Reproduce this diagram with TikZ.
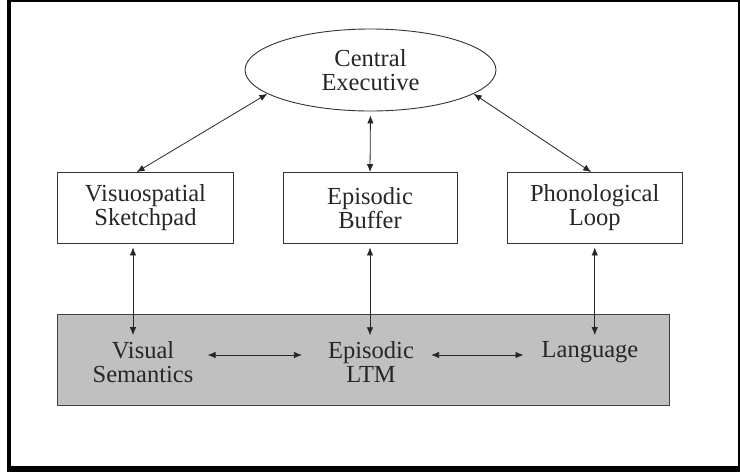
\documentclass[tikz,border=0pt]{standalone}
\usepackage{fontspec}
\setmainfont{Liberation Serif}
\usetikzlibrary{shapes.geometric,arrows.meta,calc}
\begin{document}
\begin{tikzpicture}[x=1pt,y=-1pt,
  lbl/.style={font=\fontsize{24.5}{24}\selectfont, text=black!85, align=center, inner sep=0pt},
  box/.style={lbl, draw=black!80, line width=0.9pt, minimum width=175pt, minimum height=70.5pt},
  arr/.style={{Latex[length=8pt,width=6.5pt]}-{Latex[length=8pt,width=6.5pt]}, line width=0.8pt, black!85}
]
\useasboundingbox (0,0) rectangle (740,472);
% frame
\fill (7,0) rectangle (11,472);
\fill (7,0) rectangle (740,2);
\fill (7,466) rectangle (740,472);
\fill (738,0) rectangle (740,472);

% top level
\node[lbl, ellipse, draw=black!80, line width=0.9pt, minimum width=251pt, minimum height=82pt] (ce) at (370.5,70) {Central\\Executive};

\node[box, minimum width=176pt] (vs) at (145.5,207.75) {Visuospatial\\Sketchpad};
\node[box, minimum width=174pt] (eb) at (370,207.75) {Episodic\\Buffer};
\node[box, minimum width=175.5pt] (pl) at (594.75,207.75) {Phonological\\Loop};

% LTM box
\node[draw=black!75, line width=0.8pt, fill={rgb,255:red,192;green,192;blue,192}, minimum width=612pt, minimum height=91.5pt, inner sep=0pt] (ltmbox) at (363,359.75) {};

\node[lbl] (vsem) at (143,362) {Visual\\Semantics};
\node[lbl] (ltm) at (371,362) {Episodic\\LTM};
\node[lbl] (lang) at (590,352) {Language};

% connectors top
\draw[arr] ($(vs.north west)!0.45!(vs.north east)$) -- (ce.193);
\draw[arr, shorten <=4pt] (ce.south) -- (eb.north);
\draw[arr] ($(pl.north west)!0.48!(pl.north east)$) -- (ce.-13);

% connectors to LTM
\coordinate (cx) at (133,0);
\draw[arr, shorten <=4pt, shorten >=6pt] (vs.south -| cx) -- (vsem.north -| cx);
\draw[arr, shorten <=4pt, shorten >=6pt] (eb.south) -- (eb.south |- ltm.north);
\draw[arr, shorten <=4pt, shorten >=6pt] (pl.south) -- (pl.south |- lang.north);

% horizontal connectors
\coordinate (hy) at (0,355);
\draw[arr, shorten <=14pt, shorten >=26pt] (vsem.east |- hy) -- (ltm.west |- hy);
\draw[arr, shorten <=17pt, shorten >=18pt] (ltm.east |- hy) -- (lang.west |- hy);
\end{tikzpicture}
\end{document}
